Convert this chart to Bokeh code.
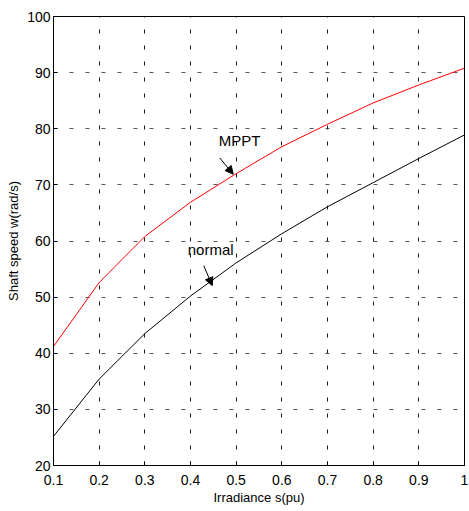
from bokeh.plotting import figure
from bokeh.models import Range1d, FixedTicker, Arrow, NormalHead, Label
from bokeh.embed import file_html
from bokeh.resources import INLINE

irradiance = [0.1, 0.2, 0.3, 0.4, 0.5, 0.6, 0.7, 0.8, 0.9, 1.0]
mppt_speed = [41.2, 52.6, 60.8, 66.9, 72.0, 76.8, 80.8, 84.6, 87.8, 90.8]
normal_speed = [25.2, 35.4, 43.5, 50.2, 56.1, 61.3, 66.1, 70.4, 74.7, 78.9]

x_ticks = [0.1, 0.2, 0.3, 0.4, 0.5, 0.6, 0.7, 0.8, 0.9, 1.0]
x_tick_labels = ["0.1", "0.2", "0.3", "0.4", "0.5", "0.6", "0.7", "0.8", "0.9", "1"]
y_ticks = [20, 30, 40, 50, 60, 70, 80, 90, 100]

FONT = "'Liberation Sans Narrow', 'Liberation Sans', Arial, sans-serif"

p = figure(width=469, height=511, output_backend="svg", toolbar_location=None,
           x_range=Range1d(0.1, 1.0), y_range=Range1d(20, 100),
           min_border_left=53, min_border_right=5, min_border_top=16, min_border_bottom=46)
p.background_fill_color = "white"
p.border_fill_color = "white"
p.outline_line_color = "black"
p.outline_line_width = 1
p.outline_line_alpha = 1

p.line(irradiance, mppt_speed, line_color="#ff0000", line_width=1)
p.line(irradiance, normal_speed, line_color="black", line_width=1)

for ax in (p.xaxis[0], p.yaxis[0]):
    ax.major_tick_in = 4
    ax.major_tick_out = 0
    ax.minor_tick_in = 0
    ax.minor_tick_out = 0
    ax.axis_line_color = "black"
    ax.major_tick_line_color = "black"
    ax.major_label_text_font = FONT
    ax.major_label_text_font_size = "14px"
    ax.major_label_text_color = "black"
    ax.axis_label_text_font = FONT
    ax.axis_label_text_font_size = "13px"
    ax.axis_label_text_font_style = "normal"
    ax.axis_label_text_color = "black"

p.xaxis.ticker = FixedTicker(ticks=x_ticks)
p.xaxis.major_label_overrides = {t: l for t, l in zip(x_ticks, x_tick_labels)}
p.yaxis.ticker = FixedTicker(ticks=y_ticks)
p.xaxis.axis_label = "Irradiance s(pu)"
p.yaxis.axis_label = "Shaft speed w(rad/s)"
p.xaxis.major_label_standoff = 9
p.yaxis.major_label_standoff = 3
p.xaxis.axis_label_standoff = 2
p.yaxis.axis_label_standoff = 3

p.xgrid.grid_line_color = "black"
p.ygrid.grid_line_color = "#444444"
p.xgrid.grid_line_dash = "4 12"
p.ygrid.grid_line_dash = "4 12"
p.xgrid.grid_line_alpha = 0.9
p.ygrid.grid_line_alpha = 0.9

# annotations
mppt_label_pos = (0.462, 76.4)
normal_label_pos = (0.394, 57.0)
mppt_arrow = (0.464, 74.8, 0.4936, 71.9)
normal_arrow = (0.429, 55.6, 0.4477, 52.05)

p.add_layout(Label(x=mppt_label_pos[0], y=mppt_label_pos[1], text="MPPT",
                   text_font=FONT, text_font_size="15px", text_color="black"))
p.add_layout(Label(x=normal_label_pos[0], y=normal_label_pos[1], text="normal",
                   text_font=FONT, text_font_size="15px", text_color="black"))
for a in (mppt_arrow, normal_arrow):
    p.add_layout(Arrow(end=NormalHead(size=8, fill_color="black", line_color="black"),
                       x_start=a[0], y_start=a[1], x_end=a[2], y_end=a[3],
                       line_color="black", line_width=1))

open("out.html", "w").write(file_html(p, INLINE))
